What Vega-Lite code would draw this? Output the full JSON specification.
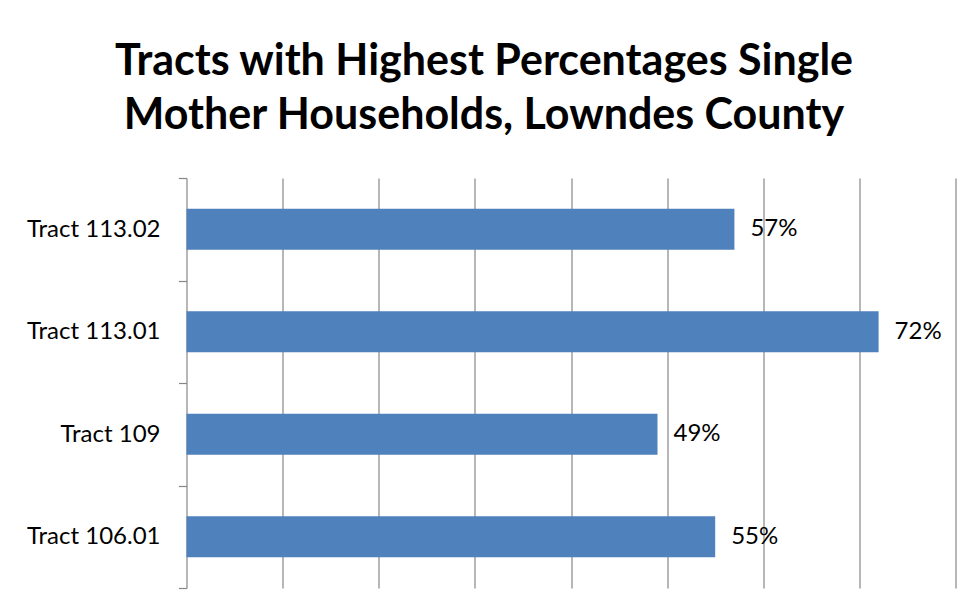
{
  "$schema": "https://vega.github.io/schema/vega-lite/v6.json",
  "autosize": "none",
  "width": 769,
  "height": 410,
  "padding": {"left": 186.5, "top": 178, "right": 18.5, "bottom": 26},
  "background": "white",
  "title": {
    "text": ["Tracts with Highest Percentages Single", "Mother Households, Lowndes County"],
    "font": "Lato",
    "fontSize": 43,
    "fontWeight": "bold",
    "color": "#000000",
    "lineHeight": 54,
    "anchor": "middle",
    "dx": -87,
    "offset": 28
  },
  "data": {
    "values": [
      {"tract": "Tract 113.02", "pct": 0.57},
      {"tract": "Tract 113.01", "pct": 0.72},
      {"tract": "Tract 109", "pct": 0.49},
      {"tract": "Tract 106.01", "pct": 0.55}
    ]
  },
  "encoding": {
    "y": {
      "field": "tract",
      "type": "nominal",
      "sort": null,
      "scale": {"paddingInner": 0, "paddingOuter": 0},
      "axis": {
        "title": null,
        "tickBand": "extent",
        "grid": false,
        "domainColor": "#868686",
        "domainWidth": 1.2,
        "tickColor": "#868686",
        "tickWidth": 1.2,
        "tickSize": 8,
        "labelPadding": 18.5,
        "labelFont": "Lato",
        "labelFontSize": 24,
        "labelColor": "#000000"
      }
    },
    "x": {
      "field": "pct",
      "type": "quantitative",
      "scale": {"domain": [0, 0.8], "nice": false},
      "axis": {
        "title": null,
        "labels": false,
        "ticks": false,
        "domain": false,
        "grid": true,
        "gridColor": "#868686",
        "gridWidth": 1.2,
        "values": [0.1, 0.2, 0.3, 0.4, 0.5, 0.6, 0.7, 0.8]
      }
    }
  },
  "layer": [
    {"mark": {"type": "bar", "color": "#4F81BD", "height": {"band": 0.4}}},
    {
      "mark": {"type": "text", "align": "left", "baseline": "middle", "dx": 16, "font": "Lato", "fontSize": 24, "color": "#000000"},
      "encoding": {"text": {"field": "pct", "type": "quantitative", "format": ".0%"}}
    }
  ],
  "config": {"view": {"stroke": null}}
}
